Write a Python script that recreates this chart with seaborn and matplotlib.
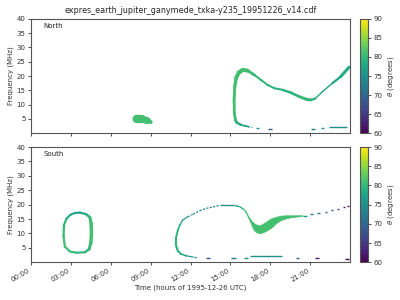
#!/usr/bin/env python3
# expres simulated jovian emission (Ganymede-Io like arcs), north vs south
import numpy as np
import matplotlib
matplotlib.use("Agg")
import matplotlib.pyplot as plt
import seaborn as sns
from matplotlib.collections import LineCollection
from matplotlib.colors import Normalize
from matplotlib.cm import ScalarMappable

TITLE = "expres_earth_jupiter_ganymede_txka-y235_19951226_v14.cdf"
hour_ticks = [0, 3, 6, 9, 12, 15, 18, 21]
hour_labels = ["00:00", "03:00", "06:00", "09:00", "12:00", "15:00", "18:00", "21:00"]
freq_ticks = [5, 10, 15, 20, 25, 30, 35, 40]
theta_ticks = [60, 65, 70, 75, 80, 85, 90]

# ---- North hemisphere ----
# main arc: time (h), frequency (MHz), theta (deg)
n_arc_t = [16.43, 16.18, 15.8, 15.48, 15.38, 15.3, 15.28, 15.33, 15.43, 15.63, 15.93, 16.3,
           16.8, 17.3, 17.8, 18.3, 18.93, 19.55, 20.18, 20.7, 21.05, 21.38, 21.93, 22.68,
           23.3, 23.93]
n_arc_f = [2.2, 2.45, 2.9, 3.7, 4.65, 7.0, 11.65, 16.3, 19.25, 21.2, 22.15, 21.9,
           20.4, 18.65, 16.9, 15.75, 15.15, 14.2, 12.8, 11.9, 11.65, 12.1, 14.55, 17.5,
           19.8, 23.1]
n_arc_th = [76, 77, 78, 79, 80, 81, 81, 81, 81, 81, 81, 81,
            80, 80, 79, 79, 79, 79, 80, 80, 80, 79, 77, 77,
            78, 79]
# small blob near 08h
n_blob_t = [7.95, 8.35, 8.75, 9.0]
n_blob_f = [5.0, 4.95, 4.4, 3.9]
n_blob_th = [81, 81, 81, 81]
# short pieces close to the low frequency cutoff: start, end, freq, theta
n_dash_t0 = [9.15, 16.55, 16.93, 17.8, 21.05, 21.8, 22.43]
n_dash_t1 = [9.2, 16.65, 17.13, 18.13, 21.38, 22.05, 23.8]
n_dash_f = [4.0, 2.1, 1.95, 1.6, 1.6, 1.95, 2.2]
n_dash_th = [81, 76, 75, 68, 72, 75, 75]

# ---- South hemisphere ----
s_oval_t = [3.68, 4.13, 4.43, 4.52, 4.55, 4.5, 4.37, 4.05, 3.43, 2.93, 2.55, 2.45, 2.48,
            2.68, 2.98, 3.3, 3.68]
s_oval_f = [17.2, 16.7, 15.6, 13.5, 10.0, 6.6, 4.5, 3.46, 3.3, 3.7, 5.4, 8.9, 12.9,
            15.2, 16.5, 17.1, 17.2]
s_oval_th = [77, 78, 80, 81, 81, 81, 80, 80, 80, 80, 81, 81, 80, 79, 78, 77, 77]

# lower / left leg of the big arc
s_leg_t = [12.2, 11.7, 11.3, 11.05, 10.9, 10.9, 11.05, 11.2, 11.4, 11.8]
s_leg_f = [1.8, 2.2, 2.8, 3.9, 6.0, 8.3, 11.2, 12.9, 14.6, 15.8]
s_leg_th = [76, 77, 78, 79, 80, 80, 79, 78, 77, 75]
# faint dotted rise
s_rise_t = [11.8, 12.2, 12.7, 13.2, 13.7, 14.2]
s_rise_f = [15.8, 16.7, 17.9, 18.7, 19.2, 19.7]
s_rise_th = [75, 74, 73, 72, 72, 74]
# top of the arc, going into the dip
s_top_t = [14.2, 15.3, 15.7, 16.05]
s_top_f = [19.7, 19.7, 19.3, 18.2]
s_top_th = [75, 76, 78, 80]
# thick part of the dip: time, lower and upper frequency edge
s_band_t = [16.05, 16.18, 16.3, 16.43, 16.55, 16.68, 16.8, 16.93, 17.18, 17.3, 17.55,
            17.68, 17.93, 18.05, 18.43, 18.8, 19.18, 19.55, 19.93, 20.4]
s_band_lo = [17.9, 17.0, 15.8, 14.6, 13.3, 11.8, 11.0, 10.4, 10.1, 10.0, 10.6,
             10.8, 11.6, 11.8, 13.5, 14.6, 15.2, 15.6, 15.8, 16.0]
s_band_hi = [18.4, 17.6, 16.4, 15.5, 14.6, 14.0, 13.5, 13.1, 12.9, 13.0, 13.7,
             14.1, 14.9, 15.2, 15.8, 16.2, 16.3, 16.3, 16.3, 16.4]
s_band_th = 81
s_dash_t0 = [12.3, 13.2, 15.05, 16.0, 16.5, 19.9, 21.4, 23.6,
             20.5, 21.0, 21.55, 22.1, 22.6, 23.05, 23.45, 23.8]
s_dash_t1 = [12.4, 13.5, 15.4, 16.3, 18.9, 20.2, 21.7, 23.9,
             20.75, 21.2, 21.75, 22.25, 22.75, 23.2, 23.6, 23.9]
s_dash_f = [1.7, 1.5, 1.5, 1.6, 2.1, 1.6, 1.4, 1.1,
            16.2, 16.6, 17.1, 17.6, 18.1, 18.5, 19.0, 19.5]
s_dash_th = [74, 68, 72, 75, 75, 70, 62, 61,
             76, 73, 71, 69, 67, 65, 63, 61]

# line widths in points for each vertex of the traces (styling only)
n_arc_lw = [1.0, 1.2, 1.5, 2.0, 2.0, 2.0, 2.0, 2.2, 2.6, 3.0, 3.0, 2.6,
            1.6, 1.4, 1.4, 1.4, 1.6, 1.8, 2.0, 2.2, 2.2, 1.2, 0.8, 1.2, 2.0, 2.4]
n_blob_lw = [6.0, 6.0, 4.0, 1.8]
s_oval_lw = [1.5, 1.6, 2.0, 2.4, 2.6, 2.4, 2.0, 1.6, 1.5, 1.5, 1.6, 1.7, 1.6, 1.5,
             1.5, 1.5, 1.5]
s_leg_lw = [0.8, 1.0, 1.2, 1.5, 1.6, 1.5, 1.3, 1.0, 0.9, 0.8]

sns.set_style("ticks")
plt.rcParams["font.family"] = ["DejaVu Sans"]
cmap = sns.color_palette("viridis", as_cmap=True)
norm = Normalize(60, 90)


def draw_trace(ax, t, f, th, lw, ls="solid", cap="round"):
    pts = np.column_stack([t, f])
    segs = np.stack([pts[:-1], pts[1:]], axis=1)
    th = np.asarray(th, float)
    lw = np.broadcast_to(np.asarray(lw, float), th.shape)
    lc = LineCollection(segs, colors=cmap(norm((th[:-1] + th[1:]) / 2)),
                        linewidths=(lw[:-1] + lw[1:]) / 2, capstyle=cap,
                        joinstyle="round", linestyles=ls)
    ax.add_collection(lc)


def draw_dashes(ax, t0, t1, f, th):
    ax.hlines(f, t0, t1, colors=cmap(norm(np.asarray(th, float))), linewidth=1.0)


fig = plt.figure(figsize=(4, 3), dpi=100)
ax_n = fig.add_axes([0.0775, 0.556, 0.7975, 0.381])
ax_s = fig.add_axes([0.0775, 0.126, 0.7975, 0.384])
cax_n = fig.add_axes([0.901, 0.556, 0.018, 0.381])
cax_s = fig.add_axes([0.901, 0.126, 0.018, 0.384])

draw_trace(ax_n, n_arc_t, n_arc_f, n_arc_th, n_arc_lw)
draw_trace(ax_n, n_blob_t, n_blob_f, n_blob_th, n_blob_lw)
draw_dashes(ax_n, n_dash_t0, n_dash_t1, n_dash_f, n_dash_th)

draw_trace(ax_s, s_oval_t, s_oval_f, s_oval_th, s_oval_lw)
draw_trace(ax_s, s_leg_t, s_leg_f, s_leg_th, s_leg_lw)
draw_trace(ax_s, s_rise_t, s_rise_f, s_rise_th, 0.9, ls=(0, (1.6, 1.2)), cap="butt")
draw_trace(ax_s, s_top_t, s_top_f, s_top_th, 1.0, cap="butt")
ax_s.fill_between(s_band_t, s_band_lo, s_band_hi, color=cmap(norm(s_band_th)),
                  linewidth=0.4, edgecolor=cmap(norm(s_band_th)))
draw_dashes(ax_s, s_dash_t0, s_dash_t1, s_dash_f, s_dash_th)

for ax, name in [(ax_n, "North"), (ax_s, "South")]:
    ax.set_xlim(0, 24)
    ax.set_ylim(0, 40)
    ax.set_xticks(hour_ticks)
    ax.set_yticks(freq_ticks)
    ax.set_yticklabels([str(v) for v in freq_ticks])
    ax.tick_params(labelsize=5, length=2.5, width=0.6, pad=1.5, colors="#333333")
    ax.set_ylabel("Frequency (MHz)", fontsize=5, labelpad=2, color="#333333")
    ax.text(0.04, 0.92, name, transform=ax.transAxes, fontsize=5, color="#222222")
    for sp in ax.spines.values():
        sp.set_color("#555555")
        sp.set_linewidth(0.8)

ax_n.set_xticklabels([])
ax_s.set_xticklabels(hour_labels, rotation=30, ha="right")
ax_s.set_xlabel("Time (hours of 1995-12-26 UTC)", fontsize=5, labelpad=1, color="#333333")
ax_n.set_title(TITLE, fontsize=5.8, pad=4)

for cax in (cax_n, cax_s):
    cb = fig.colorbar(ScalarMappable(norm=norm, cmap=cmap), cax=cax, ticks=theta_ticks)
    cb.outline.set_edgecolor("#555555")
    cb.outline.set_linewidth(0.8)
    cax.tick_params(labelsize=5, length=2.5, width=0.6, pad=1.5, colors="#333333")
    cb.set_label(r"$\theta$ (degrees)", fontsize=5, labelpad=3, color="#333333")

fig.savefig("out.png", dpi=100)
